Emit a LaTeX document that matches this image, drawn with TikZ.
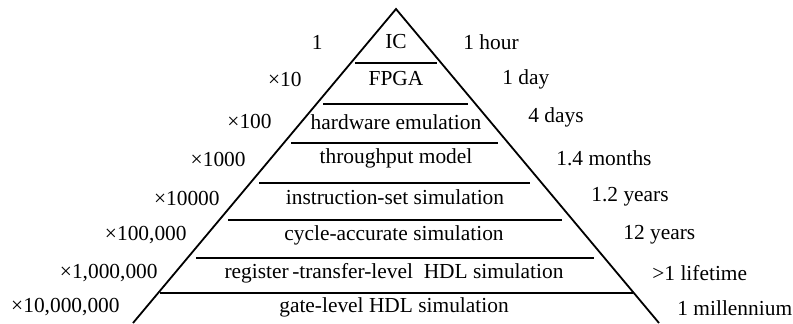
\documentclass[tikz,border=0pt]{standalone}
\usepackage{fontspec}
\setmainfont{Liberation Serif}
\usepackage{tikz}

\tikzset{
  level/.style={font=\fontsize{10.7}{12}\selectfont,inner sep=0pt},
  side/.style={black,line width=0.9pt},
  split/.style={black,line width=1.4pt}
}

\begin{document}
\begin{tikzpicture}[x=0.5pt,y=-0.5pt]
\useasboundingbox (0,0) rectangle (793,323);
% pyramid
\coordinate (apex) at (396,9);
\coordinate (baseL) at (133,323);
\coordinate (baseR) at (659,323);
\draw[side] (baseL) -- (apex) -- (baseR);
% layer boundaries
\draw[split] (355,63) -- (437,63);
\draw[split] (323,104) -- (468,104);
\draw[split] (291,143) -- (498,143);
\draw[split] (259,183) -- (530,183);
\draw[split] (228,220) -- (562,220);
\draw[split] (196,258) -- (594,258);
\draw[split] (160,293) -- (633,293);
% levels
\node[level] (ic) at (396,42) {IC};
\node[level] (fpga) at (396,79) {FPGA};
\node[level] (emu) at (396,122) {hardware emulation};
\node[level] (tput) at (396,158) {throughput model};
\node[level] (iss) at (395,197) {instruction-set simulation};
\node[level] (cyc) at (394,235) {cycle-accurate simulation};
\node[level] (rtl) at (394,273) {register\,-transfer-level\enspace HDL simulation};
\node[level] (gate) at (394,307) {gate-level HDL simulation};
% slowdown factors
\node[level,anchor=east] (f1) at (323,42) {1};
\node[level,anchor=east] (f2) at (302,79) {×10};
\node[level,anchor=east] (f3) at (272,121) {×100};
\node[level,anchor=east] (f4) at (246,159) {×1000};
\node[level,anchor=east] (f5) at (220,198) {×10000};
\node[level,anchor=east] (f6) at (187,235) {×100,000};
\node[level,anchor=east] (f7) at (158,273) {×1,000,000};
\node[level,anchor=east] (f8) at (120,307) {×10,000,000};
% run times
\node[level,anchor=west] (t1) at (463,42) {1 hour};
\node[level,anchor=west] (t2) at (502,79) {1 day};
\node[level,anchor=west] (t3) at (528,117) {4 days};
\node[level,anchor=west] (t4) at (556,158) {1.4 months};
\node[level,anchor=west] (t5) at (591,197) {1.2 years};
\node[level,anchor=west] (t6) at (623,235) {12 years};
\node[level,anchor=west] (t7) at (652,273) {>1 lifetime};
\node[level,anchor=west] (t8) at (677,308) {1 millennium};
\end{tikzpicture}
\end{document}
